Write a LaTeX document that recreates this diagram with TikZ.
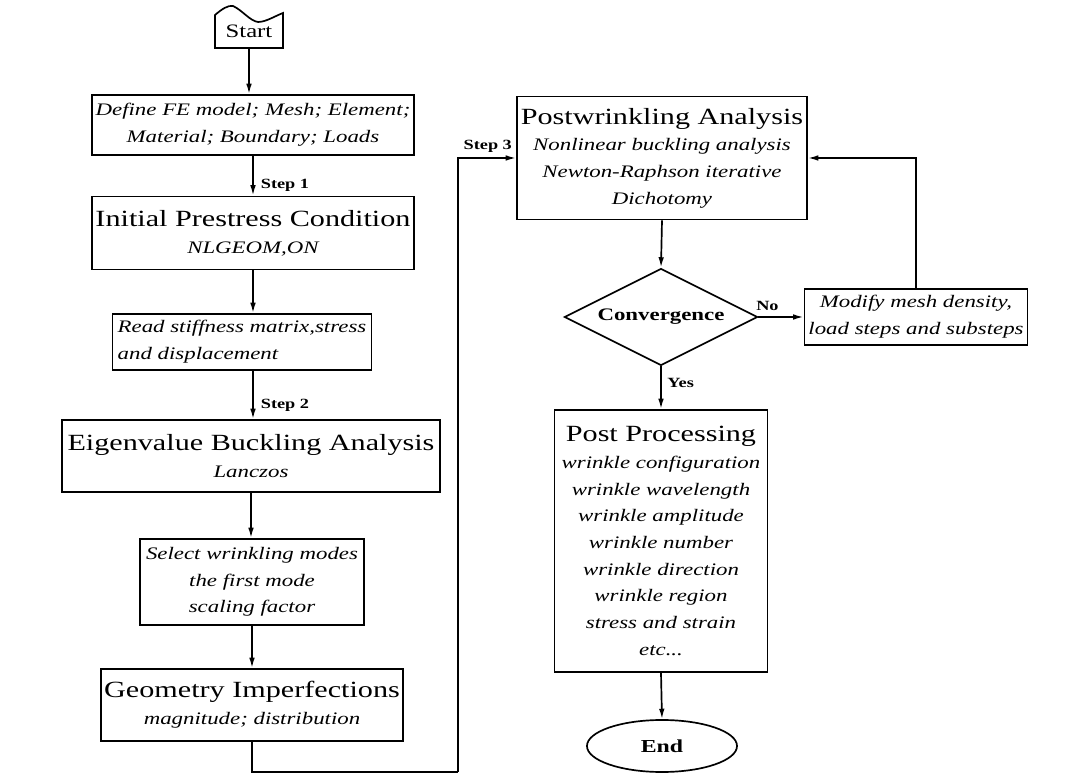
\documentclass[tikz,border=0pt]{standalone}
\usepackage{fontspec}
\setmainfont[FakeStretch=1.3]{Liberation Serif}
\usetikzlibrary{positioning,arrows.meta,shapes.geometric}

\newcommand{\boxhead}[1]{{\fontsize{16.5}{21}\selectfont\upshape #1}}

\begin{document}
\begin{tikzpicture}[x=0.025cm, y=-0.025cm,
      box/.style={draw, line width=1.2pt, align=center, inner sep=2pt,
                  font=\fontsize{12.5}{19}\selectfont\itshape},
      lbl/.style={font=\fontsize{10}{12}\selectfont\bfseries, inner sep=2pt},
      flow/.style={line width=1.2pt, ->},
      >={Latex[length=2.6mm,width=1.4mm]}]
    \useasboundingbox (0,0) rectangle (1080,780);
    % left column
    \node[font=\fontsize{13.5}{15}\selectfont, minimum width=1.7cm, minimum height=0.9cm] (start) at (249,31) {Start};
    \draw[line width=1.2pt] (215,48) -- (215,15) .. controls (222,9) and (228,5) .. (233,6)
      .. controls (242,10) and (250,21) .. (258,22) .. controls (266,22) and (275,16) .. (283,13) -- (283,48) -- cycle;
    \node[box, minimum width=8.05cm, minimum height=1.5cm] (def) at (253,125)
      {Define FE model; Mesh; Element;\\ Material; Boundary; Loads};
    \node[box, minimum width=8.05cm, minimum height=1.825cm] (init) at (253,233)
      {\boxhead{Initial Prestress Condition}\\ NLGEOM,ON};
    \node[box, align=left, minimum width=6.475cm, minimum height=1.4cm] (read) at (242,342)
      {Read stiffness matrix,stress\\ and displacement};
    \node[box, minimum width=9.45cm, minimum height=1.8cm] (eig) at (251,456)
      {\boxhead{Eigenvalue Buckling Analysis}\\ Lanczos};
    \node[box, minimum width=5.6cm, minimum height=2.15cm] (sel) at (252,582)
      {Select wrinkling modes\\ the first mode\\ scaling factor};
    \node[box, minimum width=7.55cm, minimum height=1.8cm] (geo) at (252,705)
      {\boxhead{Geometry Imperfections}\\ magnitude; distribution};
    % right column
    \node[box, minimum width=7.25cm, minimum height=3.075cm] (post) at (662,158)
      {\boxhead{Postwrinkling Analysis}\\ Nonlinear buckling analysis\\ Newton-Raphson iterative\\ Dichotomy};
    \node[draw, diamond, line width=1.2pt, shape aspect=2, inner sep=0pt,
          minimum width=4.825cm, minimum height=2.425cm,
          font=\fontsize{12.5}{15}\selectfont\bfseries] (conv) at (661,317) {Convergence};
    \node[box, minimum width=5.575cm, minimum height=1.4cm] (mod) at (916,317)
      {Modify mesh density,\\ load steps and substeps};
    \node[box, minimum width=5.325cm, minimum height=6.55cm] (pp) at (661,541)
      {\boxhead{Post Processing}\\ wrinkle configuration\\ wrinkle wavelength\\ wrinkle amplitude\\
       wrinkle number\\ wrinkle direction\\ wrinkle region\\ stress and strain\\ etc...};
    \node[draw, ellipse, line width=1.2pt, minimum width=3.75cm, minimum height=1.3cm,
          font=\fontsize{13}{15}\selectfont\bfseries] (end) at (662,746) {End};
    \coordinate (ret) at (458,772);

    \draw[flow] (start.south) -- (start.south |- def.north);
    \draw[flow] (def.south) -- (def.south |- init.north) node[lbl, pos=0.75, right=3pt] {Step 1};
    \draw[flow] (init.south) -- (init.south |- read.north);
    \draw[flow] (read.south -| init.south) -- (init.south |- eig.north) node[lbl, pos=0.72, right=3pt] {Step 2};
    \draw[flow] (eig.south) -- (eig.south |- sel.north);
    \draw[flow] (sel.south) -- (sel.south |- geo.north);
    \draw[line width=1.2pt] (geo.south) |- (ret);
    \draw[flow] (ret) |- (post.west) node[lbl, pos=0.5, above right=2pt] {Step 3};
    \draw[flow] (post.south) -- (conv.north);
    \draw[flow] (conv.east) -- (mod.west) node[lbl, pos=0.2, above=2pt] {No};
    \draw[flow] (mod.north) |- (post.east);
    \draw[flow] (conv.south) -- (pp.north) node[lbl, pos=0.4, right=2pt] {Yes};
    \draw[flow] (pp.south) -- (end.north);
  \end{tikzpicture}
\end{document}
